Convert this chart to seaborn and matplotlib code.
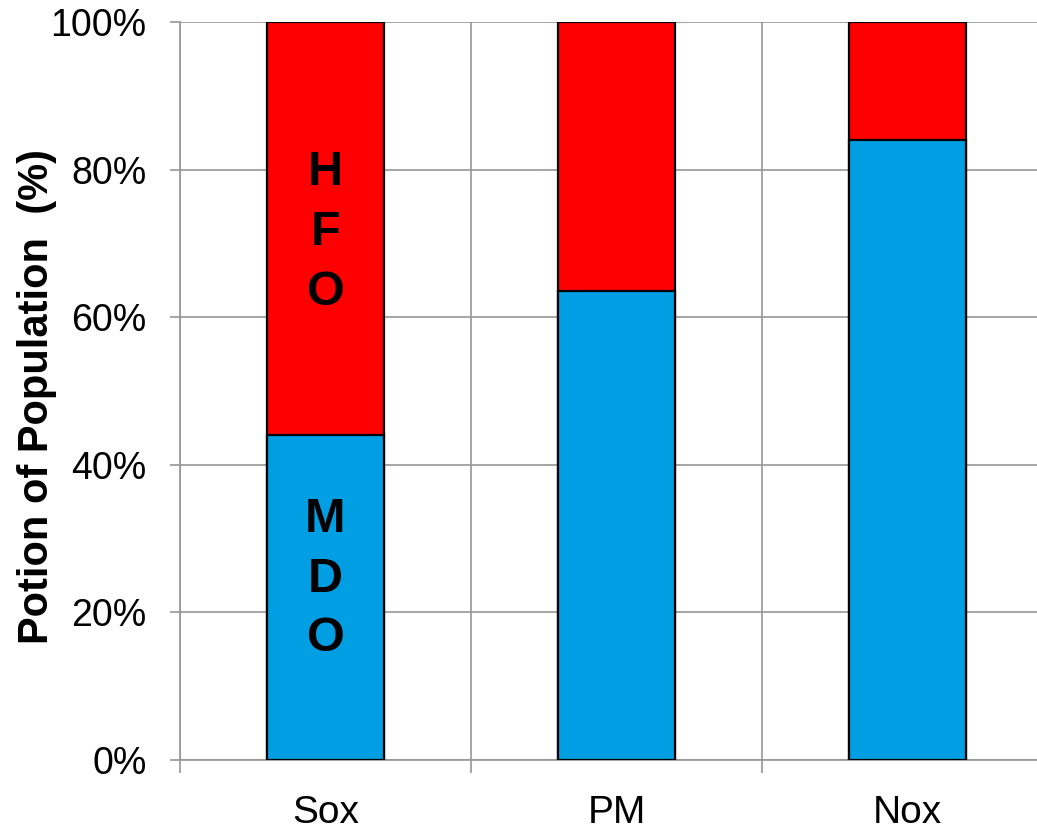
import numpy as np
import matplotlib
matplotlib.use('Agg')
import matplotlib.pyplot as plt
import pandas as pd
import seaborn as sns
from matplotlib.ticker import PercentFormatter, FixedLocator

# Data (share of population, %)
categories = ['Sox', 'PM', 'Nox']
mdo = [44.0, 63.5, 84.0]
hfo = [56.0, 36.5, 16.0]

df = pd.DataFrame({'cat': categories, 'MDO': mdo, 'HFO': hfo})
df['total'] = df['MDO'] + df['HFO']

sns.set_style('white')
plt.rcParams['font.family'] = ['Liberation Sans', 'DejaVu Sans']
plt.rcParams['text.color'] = 'black'
plt.rcParams['axes.labelcolor'] = 'black'
plt.rcParams['xtick.color'] = 'black'
plt.rcParams['ytick.color'] = 'black'

fig = plt.figure(figsize=(10.37, 8.3), dpi=100)
ax = fig.add_axes([180 / 1037, 70 / 830, 873 / 1037, 738 / 830])

grid_col = '#969696'

# stacked bars: HFO on top of MDO
sns.barplot(data=df, x='cat', y='total', order=categories, color='#FF0000',
            saturation=1, width=0.4, edgecolor='black', linewidth=1.6, ax=ax, zorder=3)
sns.barplot(data=df, x='cat', y='MDO', order=categories, color='#009FE3',
            saturation=1, width=0.4, edgecolor='black', linewidth=1.6, ax=ax, zorder=3)

ax.set_ylim(0, 100)
ax.set_xlim(-0.5, 2.5)
ax.yaxis.set_major_locator(FixedLocator([0, 20, 40, 60, 80, 100]))
ax.yaxis.set_major_formatter(PercentFormatter(decimals=0))
ax.xaxis.set_minor_locator(FixedLocator([-0.5, 0.5, 1.5, 2.5]))

ax.grid(axis='y', which='major', color=grid_col, linewidth=1.2, zorder=0)
ax.grid(axis='x', which='minor', color=grid_col, linewidth=1.2, zorder=0)
ax.set_axisbelow(True)

ax.tick_params(axis='y', which='major', left=True, length=7, width=1.2, color=grid_col,
               labelsize=27, pad=17, labelcolor='black')
ax.tick_params(axis='x', which='major', bottom=False, labelsize=28, pad=22, labelcolor='black')
ax.tick_params(axis='x', which='minor', bottom=True, length=9, width=1.2, color=grid_col)

for side in ['top', 'right']:
    ax.spines[side].set_visible(False)
for side in ['left', 'bottom']:
    ax.spines[side].set_color(grid_col)
    ax.spines[side].set_linewidth(1.2)

ax.set_xlabel('')
ax.set_ylabel('Potion of Population  (%)', fontsize=30, fontweight='bold', color='black')
ax.yaxis.set_label_coords(-0.141, 0.4925)

# stacked-letter labels inside the Sox bar
ax.text(0, 71.5, 'H\nF\nO', ha='center', va='center', fontsize=35, fontweight='bold',
        linespacing=1.42, zorder=5, color='black')
ax.text(0, 24.5, 'M\nD\nO', ha='center', va='center', fontsize=35, fontweight='bold',
        linespacing=1.42, zorder=5, color='black')

fig.savefig('out.png', dpi=100)
